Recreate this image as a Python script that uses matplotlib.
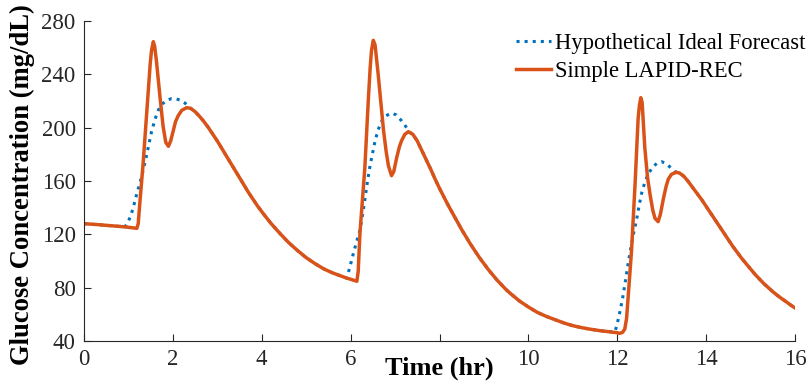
import matplotlib
matplotlib.use("Agg")
import matplotlib.pyplot as plt

plt.rcParams['font.family'] = ['Liberation Serif', 'DejaVu Serif']

# ---- segments shared by both curves ----
start_t = [0, 0.3, 0.6, 0.92]
start_g = [128, 127.3, 126.5, 125.6]

decay1_t = [2.4, 2.5, 2.6, 2.7, 2.8, 2.9, 3.0, 3.1, 3.2, 3.3, 3.4, 3.5, 3.6, 3.7, 3.8,
            3.9, 4.0, 4.2, 4.4, 4.6, 4.8, 5.0, 5.2, 5.4, 5.6, 5.8, 5.91]
decay1_g = [214.5, 212, 208.5, 204.5, 200, 195, 190, 184.5, 179, 173.5, 168, 162.5,
            157, 151.5, 146.5, 141.5, 137, 128.5, 121, 114, 108, 102.5, 98, 94, 91,
            88.5, 87.2]

decay2_t = [7.4, 7.5, 7.6, 7.7, 7.8, 7.9, 8.0, 8.1, 8.2, 8.3, 8.4, 8.5, 8.6, 8.7, 8.8,
            8.9, 9.0, 9.1, 9.2, 9.3, 9.4, 9.5, 9.6, 9.8, 10.0, 10.2, 10.4, 10.6, 10.8,
            11.0, 11.2, 11.4, 11.6, 11.8]
decay2_g = [195, 190, 183, 176, 169, 161.5, 154.5, 148, 141.5, 135.5, 129.5, 123.5,
            118, 112.5, 107.5, 102.5, 98, 93.5, 89.5, 85.5, 82, 78.5, 75.5, 70, 65.5,
            61.5, 58.5, 56, 53.5, 51.5, 50, 48.8, 47.8, 47]

decay3_t = [13.4, 13.5, 13.6, 13.7, 13.8, 13.9, 14.0, 14.1, 14.2, 14.3, 14.4, 14.5,
            14.6, 14.7, 14.8, 14.9, 15.0, 15.1, 15.2, 15.3, 15.4, 15.5, 15.6, 15.7,
            15.8, 15.9, 16.0]
decay3_g = [166, 163.5, 159.5, 155, 150.5, 146, 141, 136, 131, 126, 121, 116, 111,
            106.5, 102, 98, 94, 90, 86.5, 83, 80, 77, 74.3, 71.8, 69.5, 67, 64.8]

# ---- Simple LAPID-REC meal responses (orange) ----
lapid_meal1_t = [1.1, 1.19, 1.22, 1.26, 1.33, 1.41, 1.49, 1.52, 1.56, 1.59, 1.63, 1.71,
                 1.78, 1.84, 1.90, 1.95, 2.01, 2.06, 2.12, 2.2, 2.31]
lapid_meal1_g = [124.9, 124.5, 128, 145, 173, 210, 248, 258, 264.5, 261, 250, 223,
                 201, 189, 186, 190, 198, 204.5, 209, 213, 215]
lapid_meal2_t = [6.0, 6.14, 6.17, 6.21, 6.32, 6.40, 6.44, 6.47, 6.51, 6.55, 6.62, 6.74,
                 6.80, 6.85, 6.92, 6.97, 7.04, 7.10, 7.15, 7.22, 7.30]
lapid_meal2_g = [86.3, 84.8, 92, 121, 170, 222, 245, 258, 265.5, 262, 240, 198,
                 182, 171.5, 164, 167, 178, 186, 190.5, 195, 197]
lapid_meal3_t = [12.0, 12.05, 12.12, 12.17, 12.21, 12.32, 12.40, 12.47, 12.50, 12.53,
                 12.56, 12.62, 12.68, 12.74, 12.80, 12.85, 12.92, 12.97, 13.04, 13.1,
                 13.15, 13.22, 13.32]
lapid_meal3_g = [46.2, 45.7, 46.5, 49, 57, 107, 157, 207, 217, 222.5,
                 219, 185, 163, 149.5, 138, 132, 129.5, 135, 147, 156,
                 161.5, 165, 166.5]

# ---- Hypothetical Ideal Forecast meal responses (blue) ----
ideal_meal1_t = [0.98, 1.04, 1.1, 1.15, 1.2, 1.26, 1.33, 1.4, 1.45, 1.52, 1.6, 1.67,
                 1.75, 1.86, 1.97, 2.08, 2.18, 2.27, 2.35]
ideal_meal1_g = [128.5, 133, 139, 145.5, 152, 158.5, 168, 178, 186, 197, 206.5, 213,
                 217.5, 220.5, 221.8, 221.5, 220.5, 218.5, 216]
ideal_meal2_t = [5.98, 6.06, 6.13, 6.21, 6.27, 6.32, 6.38, 6.44, 6.50, 6.55, 6.62, 6.70,
                 6.8, 6.92, 7.03, 7.15, 7.26, 7.33]
ideal_meal2_g = [95, 105.5, 114, 123, 135, 146, 160, 172, 182, 190, 198.5, 205,
                 209, 211, 209.5, 205, 200, 196.5]
ideal_meal3_t = [11.95, 12.0, 12.06, 12.12, 12.17, 12.23, 12.29, 12.37, 12.44, 12.5,
                 12.55, 12.62, 12.70, 12.8, 12.9, 13.0, 13.1, 13.22, 13.3]
ideal_meal3_g = [47, 53, 62, 72, 82, 95, 107, 121, 132, 143,
                 151, 159, 165.5, 170.5, 173.5, 174.5, 173, 169.5, 167]

time_lapid = (start_t + lapid_meal1_t + decay1_t[:-1] + [5.91] + lapid_meal2_t
              + decay2_t + lapid_meal3_t + decay3_t)
glucose_lapid = (start_g + lapid_meal1_g + decay1_g[:-1] + [87.2] + lapid_meal2_g
                 + decay2_g + lapid_meal3_g + decay3_g)

time_ideal = (start_t + ideal_meal1_t + decay1_t + ideal_meal2_t
              + decay2_t + ideal_meal3_t + decay3_t)
glucose_ideal = (start_g + ideal_meal1_g + decay1_g + ideal_meal2_g
                 + decay2_g + ideal_meal3_g + decay3_g)

x_ticks = [0, 2, 4, 6, 8, 10, 12, 14, 16]
# the "8" label is hidden behind the x-axis title in the reference
x_tick_labels = ['0', '2', '4', '6', '', '10', '12', '14', '16']
y_ticks = [40, 80, 120, 160, 200, 240, 280]

fig = plt.figure(figsize=(8.11, 3.88), dpi=100)
ax = fig.add_axes([84/811, 1-341/388, (795-84)/811, (341-21)/388])

ax.plot(time_ideal, glucose_ideal, ':', color='#0072BD', lw=2.2,
        label='Hypothetical Ideal Forecast')
ax.plot(time_lapid, glucose_lapid, '-', color='#D95319', lw=2.5,
        label='Simple LAPID-REC', solid_joinstyle='round')

ax.set_xlim(0, 16)
ax.set_ylim(40, 280)
ax.set_xticks(x_ticks)
ax.set_xticklabels(x_tick_labels)
ax.set_yticks(y_ticks)
for s in ['top', 'right']:
    ax.spines[s].set_visible(False)
for s in ['left', 'bottom']:
    ax.spines[s].set_color('#262626')
    ax.spines[s].set_linewidth(0.8)
ax.tick_params(direction='in', length=5, width=0.8, colors='#262626',
               labelsize=16.5, labelcolor='#262626', pad=6)

ax.set_xlabel('Time (hr)', fontsize=19, fontweight='bold')
ax.xaxis.set_label_coords(0.5, -0.05)
ax.set_ylabel('Glucose Concentration (mg/dL)', fontsize=19.2, fontweight='bold')
ax.yaxis.set_label_coords(-0.069, 0.49)

ax.legend(loc='upper right', bbox_to_anchor=(1.03, 0.997), frameon=False,
          fontsize=16.3, handlelength=1.55, handletextpad=0.15, labelspacing=0.28,
          borderaxespad=0.1)

fig.savefig('out.png', dpi=100)
